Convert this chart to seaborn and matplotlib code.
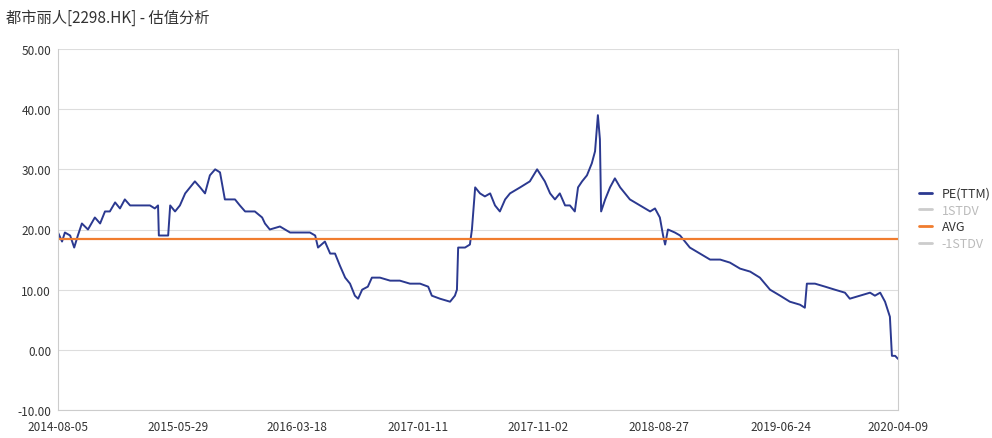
import pandas as pd
import numpy as np
import matplotlib
matplotlib.use("Agg")
import matplotlib.pyplot as plt
from matplotlib.lines import Line2D
import seaborn as sns

start = pd.Timestamp("2014-08-05")
end = pd.Timestamp("2020-04-09")

# days since start, PE(TTM)
pe_days = [0, 10, 17, 30, 40, 49, 59, 74, 91, 104, 116, 128, 141, 153, 165, 178, 202, 227, 239, 247,
           249, 272, 277, 289, 301, 314, 326, 338, 351, 363, 375, 388, 400, 412, 437, 449, 462, 486,
           504, 511, 523, 548, 573, 598, 622, 635, 642, 659, 672, 684, 696, 709, 721, 733, 741, 751,
           765, 775, 795, 820, 844, 869, 894, 914, 923, 943, 968, 980, 985, 988, 1005, 1017, 1022,
           1030, 1042, 1054, 1067, 1079, 1091, 1104, 1116, 1141, 1165, 1183, 1202, 1215, 1227, 1239,
           1252, 1264, 1276, 1284, 1294, 1306, 1318, 1326, 1333, 1338, 1341, 1351, 1363, 1375, 1388,
           1400, 1412, 1437, 1462, 1474, 1486, 1494, 1499, 1506, 1523, 1536, 1560, 1585, 1610, 1635,
           1659, 1684, 1709, 1733, 1758, 1783, 1807, 1832, 1844, 1849, 1869, 1894, 1918, 1943, 1955,
           1980, 2005, 2017, 2030, 2042, 2054, 2059, 2067, 2074]
pe_vals = [19.5, 18, 19.5, 19, 17, 19, 21, 20, 22, 21, 23, 23, 24.5, 23.5, 25, 24, 24, 24, 23.5, 24,
           19, 19, 24, 23, 24, 26, 27, 28, 27, 26, 29, 30, 29.5, 25, 25, 24, 23, 23,
           22, 21, 20, 20.5, 19.5, 19.5, 19.5, 19, 17, 18, 16, 16, 14, 12, 11, 9, 8.5, 10,
           10.5, 12, 12, 11.5, 11.5, 11, 11, 10.5, 9, 8.5, 8, 9, 10, 17, 17, 17.5, 20,
           27, 26, 25.5, 26, 24, 23, 25, 26, 27, 28, 30, 28, 26, 25, 26,
           24, 24, 23, 27, 28, 29, 31, 33, 39, 35, 23, 25, 27, 28.5, 27,
           26, 25, 24, 23, 23.5, 22, 19, 17.5, 20, 19.5, 19, 17, 16, 15, 15,
           14.5, 13.5, 13, 12, 10, 9, 8, 7.5, 7, 11, 11, 10.5, 10, 9.5, 8.5,
           9, 9.5, 9, 9.5, 8, 5.5, -1, -1, -1.5]
avg = 18.5
tick_dates = ["2014-08-05", "2015-05-29", "2016-03-18", "2017-01-11",
              "2017-11-02", "2018-08-27", "2019-06-24", "2020-04-09"]

df = pd.DataFrame({"date": start + pd.to_timedelta(pe_days, unit="D"), "pe": pe_vals})

sns.set_style("white")
plt.rcParams["font.family"] = ["Noto Sans CJK SC", "DejaVu Sans"]

fig = plt.figure(figsize=(9.92, 4.39), dpi=100)
ax = fig.add_axes([58 / 992, 1 - 411 / 439, 840 / 992, 361 / 439])

navy = "#2b3990"
orange = "#f07c2e"
sns.lineplot(data=df, x="date", y="pe", ax=ax, color=navy, linewidth=1.4)
ax.axhline(avg, color=orange, linewidth=1.6)

ax.set_xlim(start, end)
ax.set_ylim(-10, 50)
ax.set_yticks(np.arange(-10, 51, 10))
ax.set_yticklabels([f"{v:.2f}" for v in np.arange(-10, 51, 10)], fontsize=8.5, color="#333333")
ax.set_xticks(pd.to_datetime(tick_dates))
ax.set_xticklabels(tick_dates, fontsize=8.5, color="#333333")
ax.tick_params(axis="y", length=0, pad=5)
ax.tick_params(axis="x", length=0, pad=7)
ax.grid(axis="y", color="#dddddd", linewidth=0.8)
ax.set_xlabel("")
ax.set_ylabel("")
ax.spines["top"].set_visible(False)
for s in ["left", "right", "bottom"]:
    ax.spines[s].set_color("#cccccc")

handles = [Line2D([], [], color=navy, lw=2), Line2D([], [], color="#cccccc", lw=2),
           Line2D([], [], color=orange, lw=2), Line2D([], [], color="#cccccc", lw=2)]
labels = ["PE(TTM)", "1STDV", "AVG", "-1STDV"]
leg = fig.legend(handles, labels, loc="center left", bbox_to_anchor=(908 / 992, 0.5),
                 frameon=False, fontsize=9, handlelength=1.0, labelspacing=0.3)
for t, c in zip(leg.get_texts(), ["#333333", "#bbbbbb", "#333333", "#bbbbbb"]):
    t.set_color(c)

fig.text(6 / 992, 1 - 18 / 439, "都市丽人[2298.HK] - 估值分析", fontsize=11, color="#333333", va="center")

fig.savefig("out.png", dpi=100)
